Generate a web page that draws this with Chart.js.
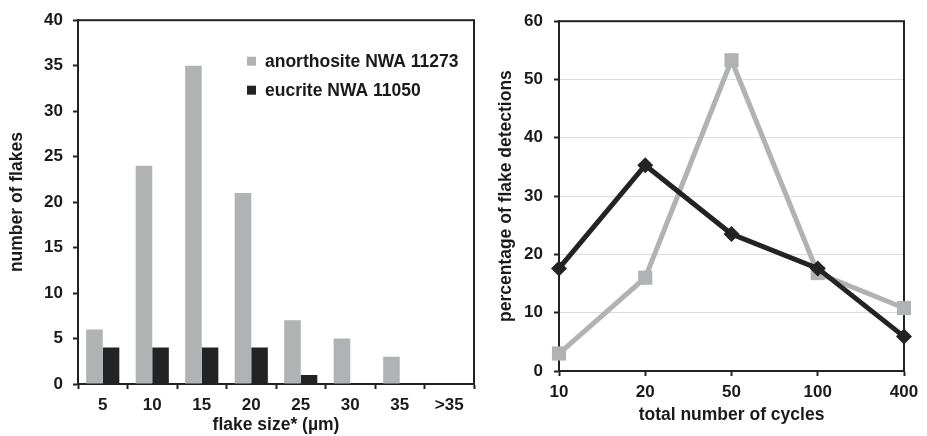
<!DOCTYPE html>
<html>
<head>
<meta charset="utf-8">
<script src="https://cdn.jsdelivr.net/npm/chart.js@4.4.1/dist/chart.umd.min.js"></script>
<style>
  body { margin: 0; background: #fff; }
  #wrap { position: relative; width: 927px; height: 436px; }
  #leftBox { position: absolute; left: 0; top: 0; width: 480px; height: 436px; }
  #rightBox { position: absolute; left: 480px; top: 0; width: 447px; height: 436px; }
</style>
</head>
<body>
<div id="wrap">
  <div id="leftBox"><canvas id="sizeChart" width="480" height="436"></canvas></div>
  <div id="rightBox"><canvas id="cycleChart" width="447" height="436"></canvas></div>
</div>
<script>
// flake size histogram
const sizeLabels = ["5", "10", "15", "20", "25", "30", "35", ">35"];
const anorthositeCounts = [6, 24, 35, 21, 7, 5, 3, 0];
const eucriteCounts = [4, 4, 4, 4, 1, 0, 0, 0];

// detections per number of cycles
const cycleLabels = ["10", "20", "50", "100", "400"];
const anorthositePct = [3, 16, 53.3, 16.8, 10.8];
const eucritePct = [17.6, 35.3, 23.5, 17.6, 5.9];

const seriesNames = ["anorthosite NWA 11273", "eucrite NWA 11050"];
const grey = "#b1b2b4";
const black = "#232323";
const axisColor = "#222";
const fontFamily = "'Liberation Sans', Arial, sans-serif";

// box around the plot area, drawn under the data
const frame = {
  id: "frame",
  beforeDatasetsDraw(chart) {
    const a = chart.chartArea;
    const c = chart.ctx;
    c.save();
    c.strokeStyle = axisColor;
    c.lineWidth = 2;
    c.strokeRect(a.left, a.top, a.right - a.left, a.bottom - a.top);
    c.restore();
  }
};

// legend inside the left plot
const innerLegend = {
  id: "innerLegend",
  afterDraw(chart) {
    const c = chart.ctx;
    const a = chart.chartArea;
    c.save();
    c.font = "bold 17.5px " + fontFamily;
    c.textBaseline = "middle";
    chart.data.datasets.forEach((ds, i) => {
      const y = a.top + 41 + i * 29;
      c.fillStyle = ds.backgroundColor;
      c.fillRect(a.left + 169, y - 4.5, 9, 9);
      c.fillStyle = "#1a1a1a";
      c.fillText(ds.label, a.left + 187, y + 1);
    });
    c.restore();
  }
};

Chart.defaults.font.family = fontFamily;
Chart.defaults.font.weight = "bold";
Chart.defaults.color = "#1a1a1a";

const tickFont = { size: 17, weight: "bold" };
const titleFont = { size: 17.5, weight: "bold" };

new Chart(document.getElementById("sizeChart").getContext("2d"), {
  type: "bar",
  data: {
    labels: sizeLabels,
    datasets: [
      { label: seriesNames[0], data: anorthositeCounts, backgroundColor: grey },
      { label: seriesNames[1], data: eucriteCounts, backgroundColor: black }
    ]
  },
  options: {
    responsive: false,
    animation: false,
    categoryPercentage: 0.67,
    barPercentage: 1.0,
    layout: { padding: { top: 20, right: 6, left: 0, bottom: 0 } },
    plugins: { legend: { display: false }, tooltip: { enabled: false } },
    scales: {
      x: {
        offset: true,
        grid: { offset: true, drawOnChartArea: false, tickLength: 5, tickColor: axisColor, tickWidth: 2 },
        border: { color: axisColor, width: 2 },
        ticks: { font: tickFont, padding: 6, maxRotation: 0 },
        title: { display: true, text: "flake size* (µm)", font: titleFont, padding: { top: 0, bottom: 0 } },
        afterFit(s) { s.height = 52; }
      },
      y: {
        min: 0,
        max: 40,
        grid: { drawOnChartArea: false, tickLength: 5, tickColor: axisColor, tickWidth: 2 },
        border: { color: axisColor, width: 2 },
        ticks: { stepSize: 5, font: tickFont, padding: 10 },
        title: { display: true, text: "number of flakes", font: titleFont, padding: { top: 7, bottom: 0 } },
        afterFit(s) { s.width = 78; }
      }
    }
  },
  plugins: [frame, innerLegend]
});

new Chart(document.getElementById("cycleChart").getContext("2d"), {
  type: "line",
  data: {
    labels: cycleLabels,
    datasets: [
      {
        label: seriesNames[0], data: anorthositePct, order: 1,
        borderColor: grey, backgroundColor: grey, borderWidth: 5,
        pointStyle: "rect", pointRadius: 10, pointBorderWidth: 0,
        tension: 0, clip: false
      },
      {
        label: seriesNames[1], data: eucritePct, order: 0,
        borderColor: black, backgroundColor: black, borderWidth: 5,
        pointStyle: "rectRot", pointRadius: 8, pointBorderWidth: 0,
        tension: 0, clip: false
      }
    ]
  },
  options: {
    responsive: false,
    animation: false,
    layout: { padding: { top: 20, right: 23, left: 0, bottom: 0 } },
    plugins: { legend: { display: false }, tooltip: { enabled: false } },
    scales: {
      x: {
        offset: false,
        grid: { drawOnChartArea: false, tickLength: 5, tickColor: axisColor, tickWidth: 2 },
        border: { color: axisColor, width: 2 },
        ticks: { font: tickFont, padding: 6, maxRotation: 0 },
        title: { display: true, text: "total number of cycles", font: titleFont, padding: { top: 0, bottom: 10 } },
        afterFit(s) { s.height = 65; }
      },
      y: {
        min: 0,
        max: 60,
        grid: { color: "#dcdcdc", lineWidth: 1, tickLength: 5, tickColor: axisColor, tickWidth: 2 },
        border: { color: axisColor, width: 2 },
        ticks: { stepSize: 10, font: tickFont, padding: 11 },
        title: { display: true, text: "percentage of flake detections", font: titleFont, padding: { top: 16, bottom: 0 } },
        afterFit(s) { s.width = 79; }
      }
    }
  },
  plugins: [frame]
});
</script>
</body>
</html>
